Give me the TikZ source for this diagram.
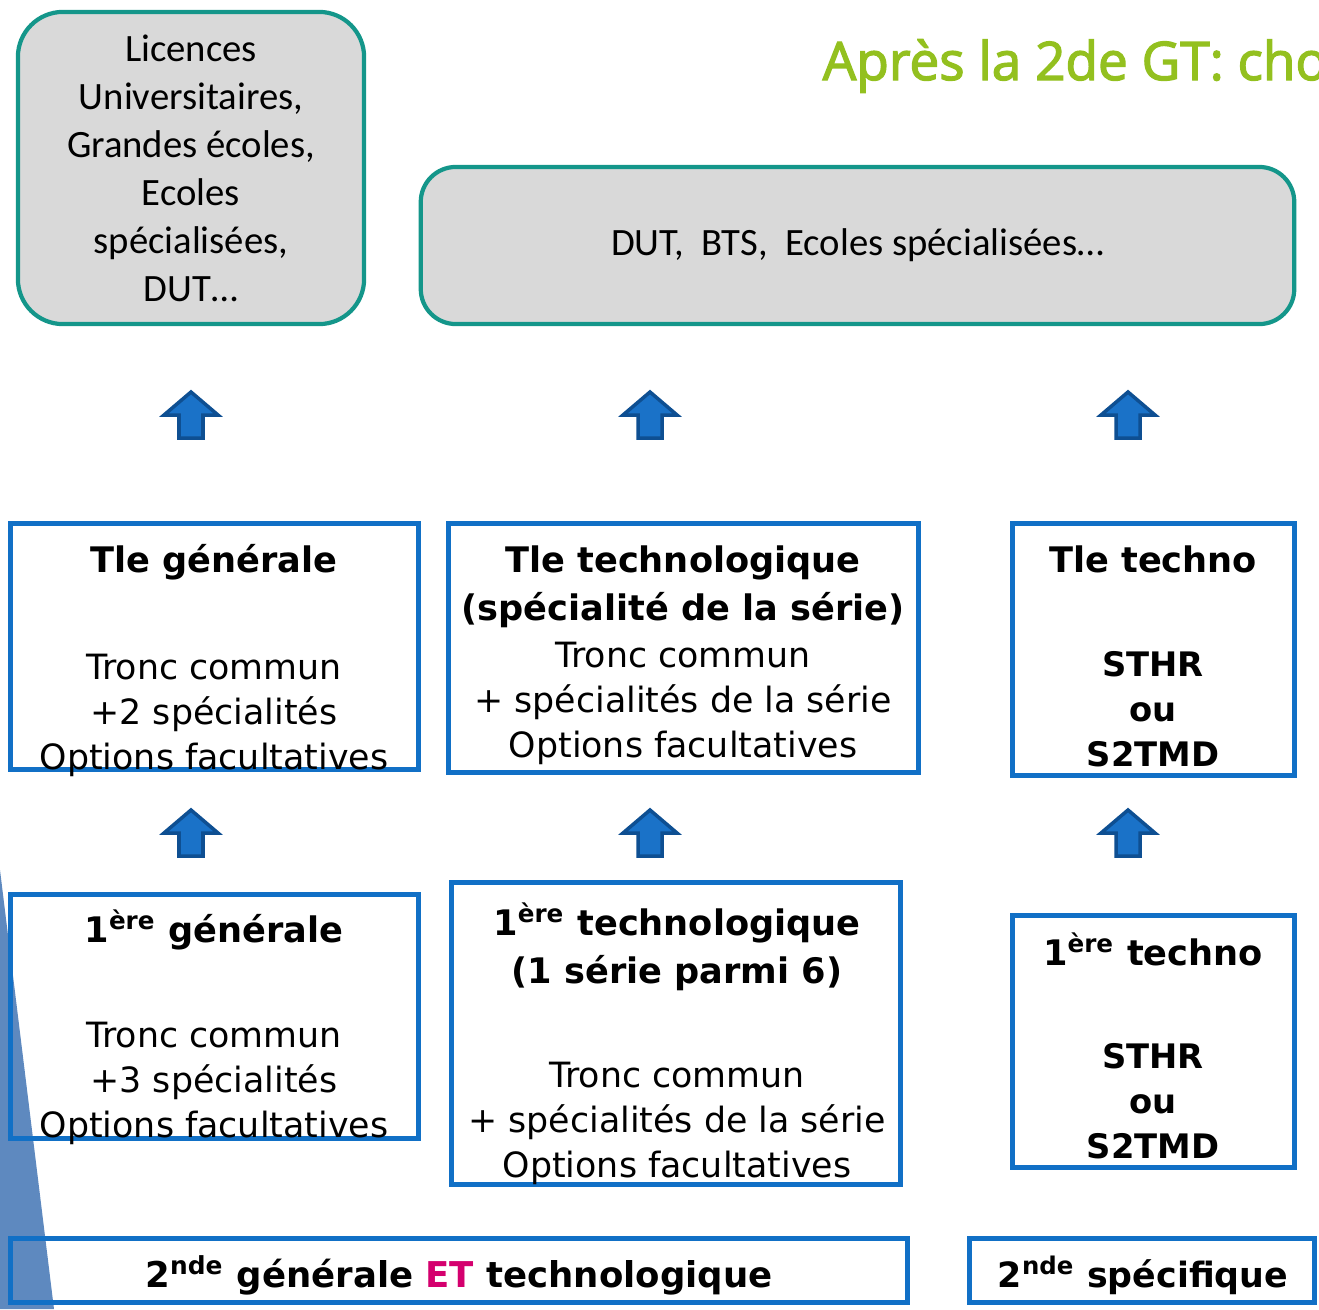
\documentclass[tikz,border=0pt]{standalone}
\usepackage{fontspec}
\setmainfont{Carlito}
\newfontfamily\comic{DejaVu Sans}
\newfontfamily\titrefont[FakeBold=2.5]{Open Sans}
\usetikzlibrary{positioning}

\definecolor{bleucadre}{HTML}{1170C6}
\definecolor{sarcelle}{HTML}{14968A}
\definecolor{grisfond}{HTML}{D9D9D9}
\definecolor{vertitre}{HTML}{93C01F}
\definecolor{roseet}{HTML}{D4006E}
\definecolor{flechefond}{HTML}{1A72C8}
\definecolor{flechebord}{HTML}{0E4F92}
\definecolor{coin}{HTML}{5E89BF}

\tikzset{
  etudes/.style={draw=sarcelle, line width=1.2pt, fill=grisfond, align=center, inner sep=0pt,
    font=\fontsize{11}{13.66}\selectfont},
  annee/.style={draw=bleucadre, line width=1.4pt, inner sep=0pt},
  entete/.style={align=center, inner sep=0pt, font=\comic\bfseries\fontsize{10}{13.7}\selectfont},
  corps/.style={align=center, inner sep=0pt, font=\comic\fontsize{9.9}{12.8}\selectfont},
  serie/.style={align=center, inner sep=0pt, font=\comic\bfseries\fontsize{9.6}{12.8}\selectfont},
  monte/.pic={
    \filldraw[fill=flechefond, draw=flechebord, line width=1pt]
      (-12,23) -- (-12,0) -- (-27,0) -- (0,-23) -- (27,0) -- (12,0) -- (12,23) -- cycle;
  }
}

\begin{document}
\begin{tikzpicture}[x=0.01cm, y=-0.01cm]
\useasboundingbox (0,0) rectangle (1319,1309);

% bande decorative
\fill[coin] (0,870) -- (54,1309) -- (0,1309) -- cycle;

\node[text=vertitre, font=\titrefont\fontsize{15.1}{18}\selectfont, anchor=base west, inner sep=0pt]
  (titre) at (822,80) {Après la 2de GT: cho};

% poursuites d'etudes
\node[etudes, rounded corners=0.45cm, minimum width=3.46cm, minimum height=3.12cm] (sup1) at (191,168)
  {Licences\\Universitaires,\\Grandes écoles,\\Ecoles\\spécialisées,\\DUT…};
\node[etudes, rounded corners=0.35cm, minimum width=8.73cm, minimum height=1.57cm] (sup2) at (857.5,245.5)
  {DUT,\ \ BTS,\ \ Ecoles spécialisées…};

\pic (m1) at (191,415) {monte};
\pic (m2) at (650,415) {monte};
\pic (m3) at (1128,415) {monte};

% terminales
\node[annee, minimum width=4.08cm, minimum height=2.46cm] (tleg) at (214.5,646.5) {};
\node[annee, minimum width=4.70cm, minimum height=2.49cm] (tlet) at (683.5,648) {};
\node[annee, minimum width=2.82cm, minimum height=2.52cm] (tlett) at (1153.5,649.5) {};

\node[entete, anchor=base] (tleg-h) at (214,572) {Tle générale};
\node[corps, anchor=north] (tleg-c) at (214,653) {Tronc commun\\+2 spécialités\\Options facultatives};
\node[entete, anchor=north] (tlet-h) at (683,545) {Tle technologique\\(spécialité de la série)};
\node[corps, anchor=north] (tlet-c) at (683,641) {Tronc commun\\+ spécialités de la série\\Options facultatives};
\node[entete, anchor=base] (tlett-h) at (1153,572) {Tle techno};
\node[serie, anchor=north] (tlett-c) at (1153,651) {STHR\\ou\\S2TMD};

\pic (m4) at (191,833) {monte};
\pic (m5) at (650,833) {monte};
\pic (m6) at (1128,833) {monte};

% premieres
\node[annee, minimum width=4.08cm, minimum height=2.44cm] (preg) at (214.5,1016.5) {};
\node[annee, minimum width=4.49cm, minimum height=3.02cm] (pret) at (676,1033.5) {};
\node[annee, minimum width=2.82cm, minimum height=2.52cm] (prett) at (1153.5,1041.5) {};

\node[entete, anchor=base] (preg-h) at (214,942) {1\textsuperscript{ère} générale};
\node[corps, anchor=north] (preg-c) at (214,1021) {Tronc commun\\+3 spécialités\\Options facultatives};
\node[entete, anchor=north] (pret-h) at (677,902) {1\textsuperscript{ère} technologique\\(1 série parmi 6)};
\node[corps, anchor=north] (pret-c) at (677,1061) {Tronc commun\\+ spécialités de la série\\Options facultatives};
\node[entete, anchor=base] (prett-h) at (1153,965) {1\textsuperscript{ère} techno};
\node[serie, anchor=north] (prett-c) at (1153,1043) {STHR\\ou\\S2TMD};

% secondes
\node[annee, minimum width=8.97cm, minimum height=0.64cm] (sec) at (459,1270.5) {};
\node[annee, minimum width=3.45cm, minimum height=0.64cm] (secs) at (1142,1270.5) {};
\node[entete, font=\comic\bfseries\fontsize{10.1}{12}\selectfont, anchor=base] (sec-t) at (459,1287)
  {2\textsuperscript{nde} générale \textcolor{roseet}{ET} technologique};
\node[entete, font=\comic\bfseries\fontsize{9.9}{12}\selectfont, anchor=base] (secs-t) at (1143,1287)
  {2\textsuperscript{nde} spécifique};

\end{tikzpicture}
\end{document}
